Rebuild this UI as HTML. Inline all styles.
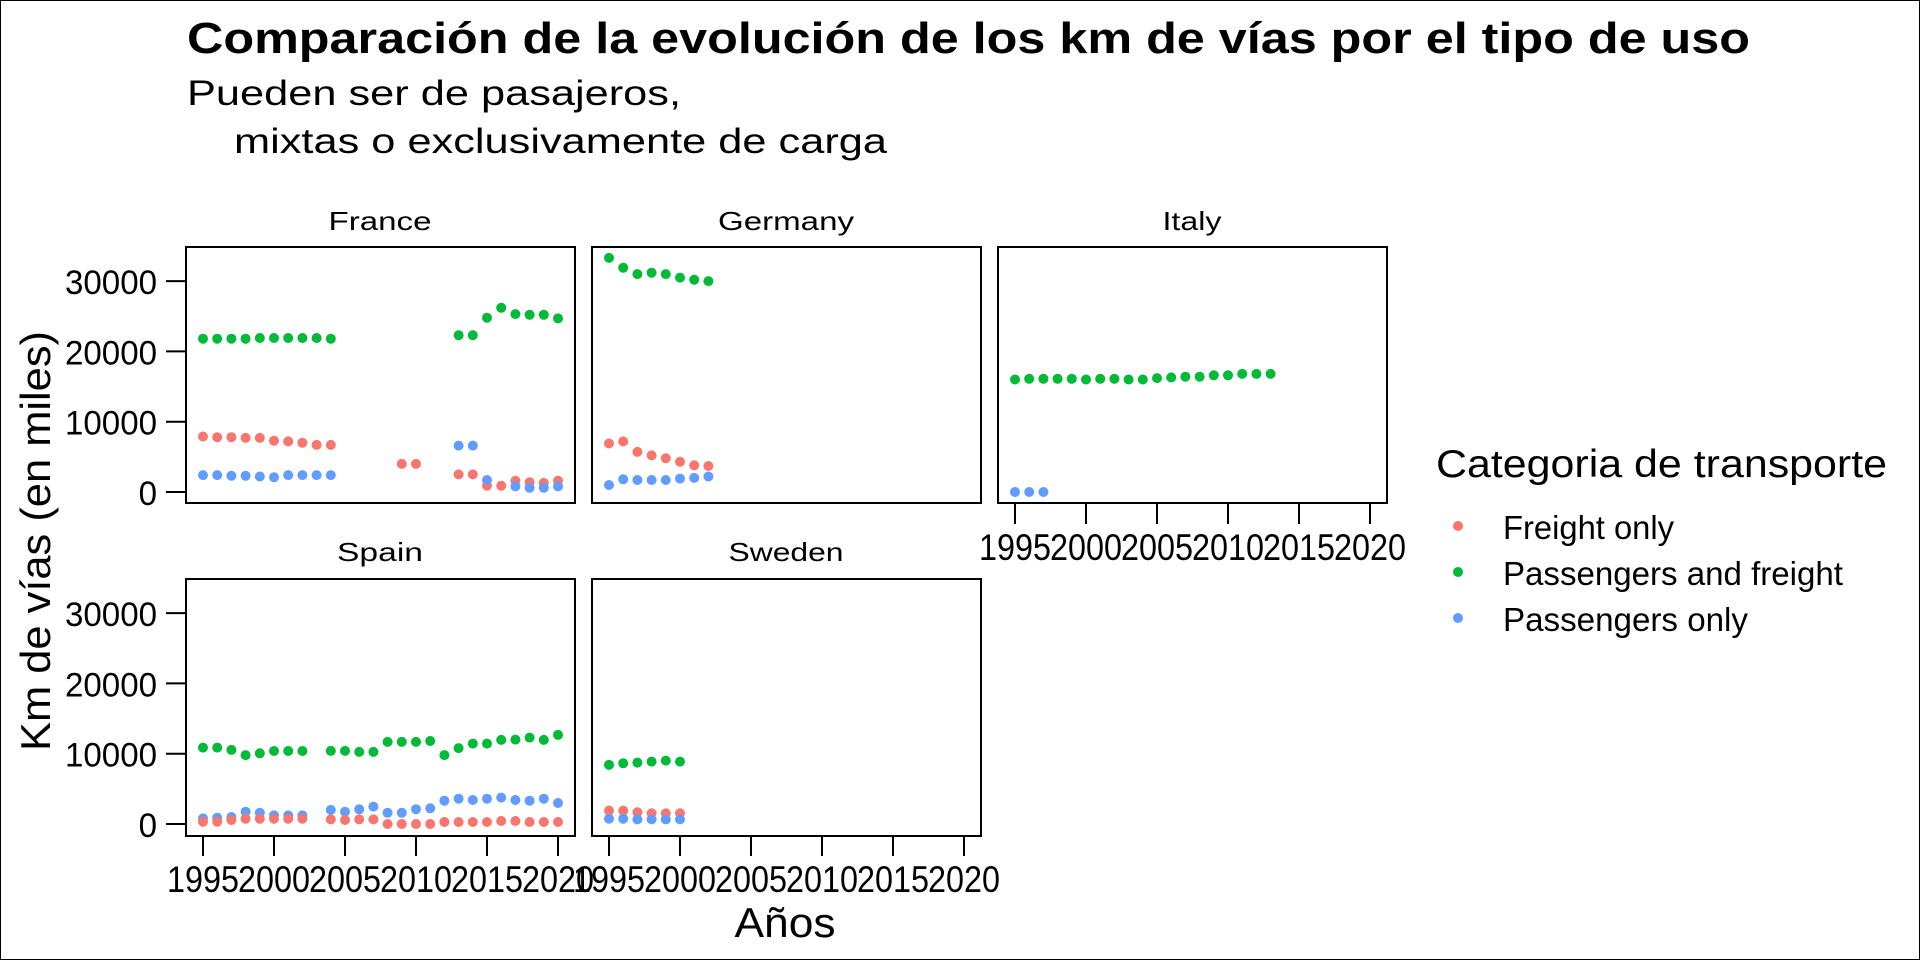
<!DOCTYPE html>
<html><head><meta charset="utf-8"><style>
html,body{margin:0;padding:0;background:#fff}
svg{display:block}
text{font-family:"Liberation Sans",Arial,sans-serif;fill:#000}
</style></head><body>
<svg id="s" width="1920" height="960" xmlns="http://www.w3.org/2000/svg">
<rect x="0.5" y="0.5" width="1919" height="959" fill="#fff" stroke="#000" stroke-width="1"/>
<text x="187" y="53" font-size="44" font-weight="bold" textLength="1563" lengthAdjust="spacingAndGlyphs">Comparación de la evolución de los km de vías por el tipo de uso</text>
<text x="187" y="105" font-size="35" textLength="494" lengthAdjust="spacingAndGlyphs">Pueden ser de pasajeros,</text>
<text x="234" y="153" font-size="35" textLength="653" lengthAdjust="spacingAndGlyphs">mixtas o exclusivamente de carga</text>
<text x="380" y="230" font-size="26" text-anchor="middle" textLength="103" lengthAdjust="spacingAndGlyphs">France</text>
<text x="786" y="230" font-size="26" text-anchor="middle" textLength="136" lengthAdjust="spacingAndGlyphs">Germany</text>
<text x="1192" y="230" font-size="26" text-anchor="middle" textLength="59" lengthAdjust="spacingAndGlyphs">Italy</text>
<text x="380" y="561" font-size="26" text-anchor="middle" textLength="86" lengthAdjust="spacingAndGlyphs">Spain</text>
<text x="786" y="561" font-size="26" text-anchor="middle" textLength="115" lengthAdjust="spacingAndGlyphs">Sweden</text>
<text transform="translate(50,541) rotate(-90)" font-size="42" text-anchor="middle" textLength="420" lengthAdjust="spacingAndGlyphs">Km de vías (en miles)</text>
<text x="785" y="937" font-size="42" text-anchor="middle" textLength="101" lengthAdjust="spacingAndGlyphs">Años</text>
<text x="1436" y="477" font-size="39" textLength="451" lengthAdjust="spacingAndGlyphs">Categoria de transporte</text>
<circle cx="1458" cy="526" r="5" fill="#F8766D"/>
<circle cx="1458" cy="572" r="5" fill="#00BA38"/>
<circle cx="1458" cy="618" r="5" fill="#619CFF"/>
<text x="1503" y="539" font-size="33" textLength="171" lengthAdjust="spacingAndGlyphs">Freight only</text>
<text x="1503" y="585" font-size="33" textLength="340" lengthAdjust="spacingAndGlyphs">Passengers and freight</text>
<text x="1503" y="631" font-size="33" textLength="245" lengthAdjust="spacingAndGlyphs">Passengers only</text>
<g id="g"></g>
</svg>
<script>
var g=document.getElementById('g'),out='';
var R='#F8766D',G='#00BA38',B='#619CFF';
function px(col,yr){return 186+col*406+17+(yr-1995)*14.2;}
function py(row,v){return (row?824:492)-v*0.00703;}
function pts(col,row,c,start,vals){vals.forEach(function(v,i){if(v===null)return;out+='<circle cx="'+px(col,start+i).toFixed(1)+'" cy="'+py(row,v).toFixed(1)+'" r="5" fill="'+c+'"/>';});}
var panels=[[0,0,247,503],[1,0,247,503],[2,0,247,503],[0,1,579,836],[1,1,579,836]];
panels.forEach(function(p){var x0=186+p[0]*406;out+='<rect x="'+x0+'" y="'+p[2]+'" width="389" height="'+(p[3]-p[2])+'" fill="none" stroke="#000" stroke-width="2"/>';});
[0,1].forEach(function(row){[0,10000,20000,30000].forEach(function(v){var y=py(row,v);var s=String(v);out+='<line x1="166" x2="186" y1="'+y+'" y2="'+y+'" stroke="#000" stroke-width="2"/><text x="157" y="'+(y+13)+'" font-size="34" text-anchor="end" textLength="'+(s.length*18.4).toFixed(1)+'" lengthAdjust="spacingAndGlyphs">'+s+'</text>';});});
function xt(col,yb){for(var yr=1995;yr<=2020;yr+=5){var x=px(col,yr);out+='<line x1="'+x+'" x2="'+x+'" y1="'+yb+'" y2="'+(yb+20)+'" stroke="#000" stroke-width="2"/><text x="'+x+'" y="'+(yb+56)+'" font-size="37" text-anchor="middle" textLength="72" lengthAdjust="spacingAndGlyphs">'+yr+'</text>';}}
xt(2,504);xt(0,836);xt(1,836);
var n=null;
pts(0,0,G,1995,[21800,21800,21800,21800,21900,21900,21900,21900,21900,21800,n,n,n,n,n,n,n,n,22300,22300,24800,26200,25300,25200,25200,24700]);
pts(0,0,R,1995,[7900,7800,7800,7700,7700,7300,7200,7000,6700,6700,n,n,n,n,4000,4000,n,n,2500,2500,900,900,1600,1400,1300,1600]);
pts(0,0,B,1995,[2400,2400,2300,2300,2200,2100,2400,2400,2400,2400,n,n,n,n,n,n,n,n,6600,6600,1700,n,800,600,600,800]);
pts(1,0,G,1995,[33300,31900,31000,31200,31000,30500,30200,30000]);
pts(1,0,R,1995,[6900,7200,5700,5200,4800,4300,3800,3700]);
pts(1,0,B,1995,[1000,1800,1700,1700,1700,1900,2000,2200]);
pts(2,0,G,1995,[16000,16100,16100,16100,16100,16000,16100,16100,16000,16000,16200,16300,16400,16400,16600,16600,16800,16800,16800]);
pts(2,0,B,1995,[0,0,0]);
pts(0,1,G,1995,[10870,10870,10540,9800,10060,10390,10390,10390,n,10400,10400,10250,10250,11680,11680,11680,11800,9800,10800,11440,11440,11960,12000,12290,11960,12670]);
pts(0,1,B,1995,[800,900,1000,1750,1600,1230,1230,1230,n,2000,1750,2090,2470,1600,1600,2100,2230,3320,3600,3420,3600,3750,3420,3320,3600,2990]);
pts(0,1,R,1995,[330,330,570,760,760,760,760,760,n,660,570,660,660,0,0,0,0,280,280,280,280,430,430,280,280,280]);
pts(1,1,G,1995,[8400,8640,8730,8870,9020,8870]);
pts(1,1,R,1995,[1900,1900,1660,1520,1520,1520]);
pts(1,1,B,1995,[760,760,660,660,660,660]);
g.innerHTML=out;
</script>
</body></html>
